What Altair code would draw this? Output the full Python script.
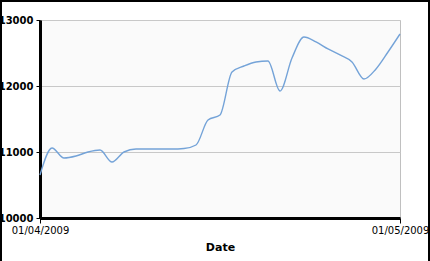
import altair as alt
import pandas as pd

dates = pd.date_range("2009-04-01", "2009-05-01", freq="D").strftime("%Y-%m-%d").tolist()
values = [10652, 11061, 10909, 10939, 11000, 11030, 10848, 11000, 11045, 11045,
          11045, 11045, 11053, 11106, 11485, 11560, 12212, 12303, 12364, 12379,
          11924, 12424, 12742, 12667, 12561, 12470, 12364, 12106, 12258, 12515,
          12788]
y_ticks = [10000, 11000, 12000, 13000]
x_title = "Date"

df = pd.DataFrame({"date": dates, "value": values})

line = alt.Chart(df).mark_line(
    interpolate="monotone", color="#74a3d8", strokeWidth=1.4
).encode(
    x=alt.X(
        "date:T",
        scale=alt.Scale(type="utc", domain=[dates[0], dates[-1]], nice=False),
        axis=alt.Axis(
            title=x_title,
            values=[alt.DateTime(year=2009, month=4, date=1, utc=True),
                    alt.DateTime(year=2009, month=5, date=1, utc=True)],
            format="%d/%m/%Y",
            grid=False,
            domainColor="black", domainWidth=3,
            tickColor="black", tickSize=5, tickWidth=1,
            labelFont="DejaVu Sans", labelFontSize=10, labelColor="black",
            labelPadding=2, labelFlush=False, labelBound=False, labelAlign="center",
            titleFont="DejaVu Sans", titleFontSize=11, titleFontWeight="bold",
            titleColor="black", titlePadding=6,
        ),
    ),
    y=alt.Y(
        "value:Q",
        scale=alt.Scale(domain=[10000, 13000], nice=False, zero=False),
        axis=alt.Axis(
            title=None,
            values=y_ticks,
            format="d",
            grid=True, gridColor="#c8c8c8", gridWidth=1,
            domainColor="black", domainWidth=3,
            tickColor="black", tickSize=4, tickWidth=1,
            labelFont="DejaVu Sans", labelFontSize=10, labelFontWeight="bold",
            labelColor="black", labelPadding=3, labelBound=False, labelFlush=False,
        ),
    ),
)

frame = alt.Chart(df).mark_rect(
    fill=None, stroke="black", strokeWidth=2, clip=False
).encode(
    x=alt.value(-39), x2=alt.value(389), y=alt.value(-19), y2=alt.value(242)
)

chart = alt.layer(line, frame).properties(
    width=360, height=198,
    autosize=alt.AutoSizeParams(type="none"),
    padding={"left": 40, "top": 20, "right": 30, "bottom": 43},
    background="white",
).configure_view(
    fill="#fafafa", stroke="#c0c0c0", strokeWidth=1
)

chart.save("out.html", embed_options={"renderer": "svg", "actions": False})
